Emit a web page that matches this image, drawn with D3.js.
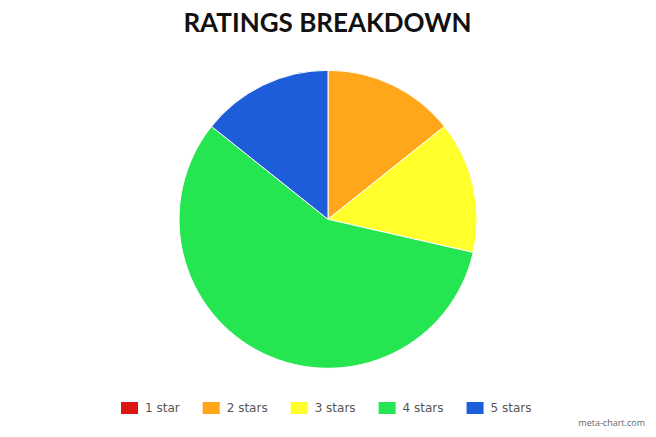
<!DOCTYPE html>
<html><head><meta charset="utf-8">
<script src="https://cdn.jsdelivr.net/npm/d3@7"></script>
<style>html,body{margin:0;padding:0;background:#fff;}svg{display:block;}</style>
</head><body>
<svg id="chart" width="656" height="437"></svg>
<script>
const categories = ["1 star", "2 stars", "3 stars", "4 stars", "5 stars"];
const values = [0, 1, 1, 4, 1];
const colors = ["#dc1414", "#ffa61a", "#ffff2b", "#25e650", "#1e5dd9"];
const title = "RATINGS BREAKDOWN";
const credit = "meta-chart.com";

const svg = d3.select("#chart");
const W = 656, H = 437;
const cx = 328, cy = 219.3, r = 149;

svg.append("text").attr("x", W/2 - 0.5).attr("y", 32)
  .attr("text-anchor", "middle")
  .style("font-family", "Lato").style("font-weight", "bold").style("font-size", "26px")
  .attr("fill", "#111").text(title);

const data = categories.map((c, i) => ({cat: c, val: values[i], color: colors[i]}));
const pie = d3.pie().value(d => d.val).sort(null);
const arc = d3.arc().innerRadius(0).outerRadius(r);
const g = svg.append("g").attr("transform", `translate(${cx},${cy})`);
g.selectAll("path").data(pie(data).filter(d => d.data.val > 0)).join("path")
  .attr("d", arc).attr("fill", d => d.data.color)
  .attr("stroke", "#fff").attr("stroke-width", 1);

// legend
const leg = svg.append("g");
let x = 121;
const sqW = 17, sqH = 12, ly = 408;
data.forEach(d => {
  leg.append("rect").attr("x", x).attr("y", ly - 6).attr("width", sqW).attr("height", sqH).attr("fill", d.color);
  const t = leg.append("text").attr("x", x + sqW + 7).attr("y", ly).attr("dy", "0.36em")
    .style("font-family", "DejaVu Sans").style("font-size", "12px").attr("fill", "#555").text(d.cat);
  x += sqW + 7 + t.node().getComputedTextLength() + 23;
});

svg.append("text").attr("x", 645).attr("y", 426).attr("text-anchor", "end")
  .style("font-family", "Open Sans").style("font-size", "9px").attr("fill", "#666").text(credit);
</script>
</body></html>
